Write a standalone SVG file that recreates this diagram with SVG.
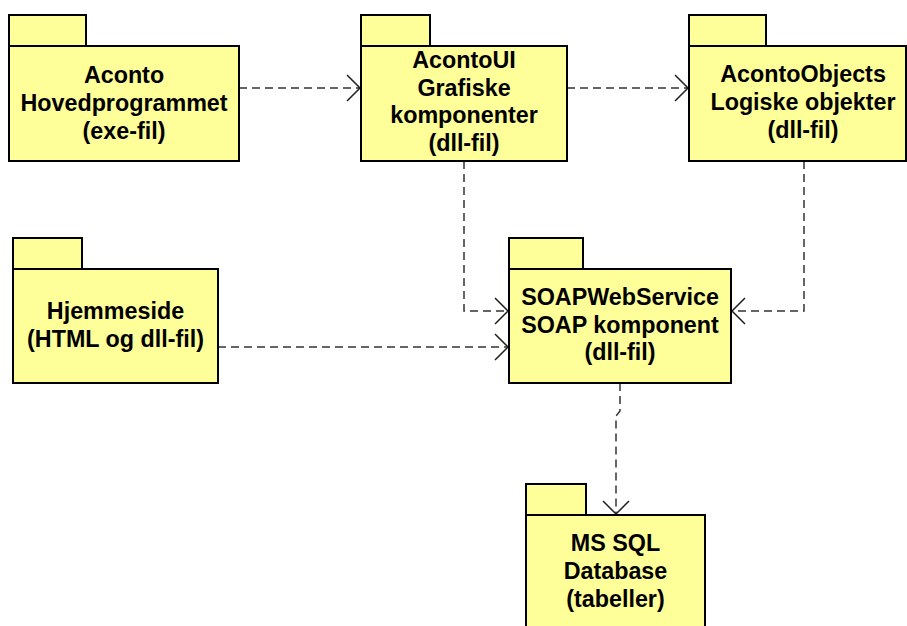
<svg xmlns="http://www.w3.org/2000/svg" width="907" height="626" viewBox="0 0 907 626">
<style>
.pk{fill:#FFFF99;stroke:#000;stroke-width:2}
.t{font-family:"Liberation Sans",Arial,sans-serif;font-weight:bold;font-size:23.3px;fill:#000;text-anchor:middle}
.c{fill:none;stroke:#333;stroke-width:1.5;stroke-dasharray:8 5}
</style>
<defs>
<marker id="open" markerUnits="userSpaceOnUse" markerWidth="30" markerHeight="30" refX="0" refY="0" orient="auto" overflow="visible">
<path d="M-13,-13 L0,0 L-13,13" fill="none" stroke="#202020" stroke-width="1.5"/>
</marker>
</defs>
<rect width="907" height="626" fill="#fff"/>
<g id="connectors">
<path class="c" d="M239,88 H360" marker-end="url(#open)"/>
<path class="c" d="M567,88 H688" marker-end="url(#open)"/>
<path class="c" d="M464,161 V311 H508" marker-end="url(#open)"/>
<path class="c" d="M804,161 V311 H732" marker-end="url(#open)"/>
<path class="c" d="M218,347 H508" marker-end="url(#open)"/>
<path class="c" d="M620,383 V411 L616,416 V514" marker-end="url(#open)"/>
</g>
<g id="aconto">
<rect class="pk" x="9" y="15" width="77" height="31"/>
<rect class="pk" x="9" y="46" width="230" height="115"/>
<text class="t" x="124" y="83">Aconto</text>
<text class="t" x="124" y="111">Hovedprogrammet</text>
<text class="t" x="124" y="139">(exe-fil)</text>
</g>
<g id="acontoui">
<rect class="pk" x="361" y="15" width="69" height="31"/>
<rect class="pk" x="361" y="46" width="206" height="115"/>
<text class="t" x="464" y="68">AcontoUI</text>
<text class="t" x="464" y="95.5">Grafiske</text>
<text class="t" x="464" y="123">komponenter</text>
<text class="t" x="464" y="150.5">(dll-fil)</text>
</g>
<g id="acontoobjects">
<rect class="pk" x="689" y="15" width="77" height="31"/>
<rect class="pk" x="689" y="46" width="217" height="115"/>
<text class="t" x="803" y="82">AcontoObjects</text>
<text class="t" x="803" y="110">Logiske objekter</text>
<text class="t" x="803" y="138">(dll-fil)</text>
</g>
<g id="hjemmeside">
<rect class="pk" x="13" y="238" width="69" height="31"/>
<rect class="pk" x="13" y="269" width="205" height="114"/>
<text class="t" x="115.5" y="319">Hjemmeside</text>
<text class="t" x="115.5" y="347">(HTML og dll-fil)</text>
</g>
<g id="soapwebservice">
<rect class="pk" x="509" y="238" width="74" height="31"/>
<rect class="pk" x="509" y="269" width="222" height="114"/>
<text class="t" x="620" y="305">SOAPWebService</text>
<text class="t" x="620" y="333">SOAP komponent</text>
<text class="t" x="620" y="360">(dll-fil)</text>
</g>
<g id="mssql">
<rect class="pk" x="526" y="484" width="60" height="31"/>
<rect class="pk" x="526" y="515" width="179" height="125"/>
<text class="t" x="615.5" y="551">MS SQL</text>
<text class="t" x="615.5" y="579">Database</text>
<text class="t" x="615.5" y="607">(tabeller)</text>
</g>
</svg>
